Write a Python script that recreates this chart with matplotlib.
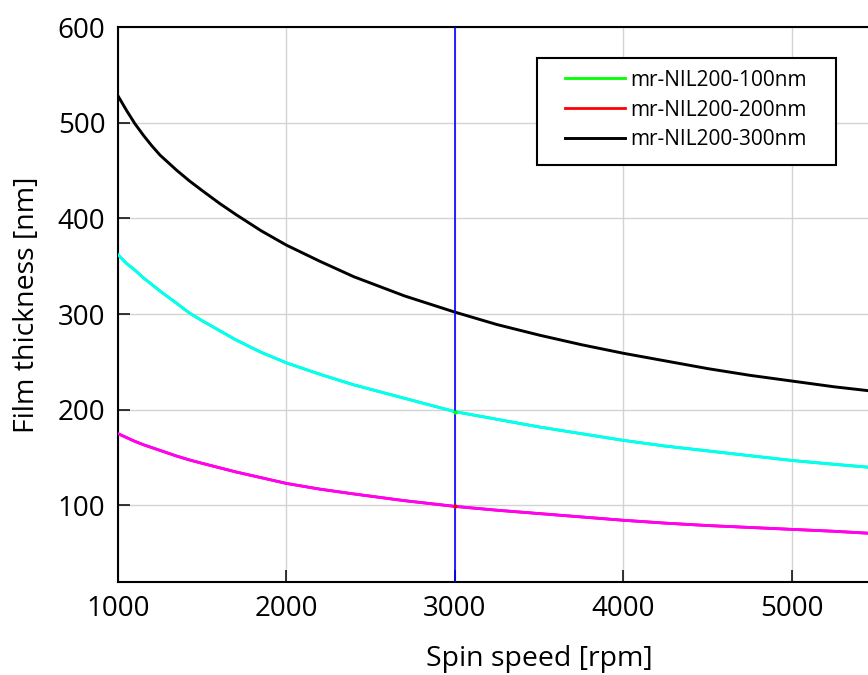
import matplotlib
matplotlib.use('Agg')
import matplotlib.pyplot as plt
from matplotlib.patches import Rectangle

plt.rcParams['font.family'] = ['Open Sans', 'DejaVu Sans']

# Spin curves
speed = [1000, 1050, 1100, 1150, 1200, 1250, 1350, 1425, 1500, 1600, 1700, 1850, 2000,
         2200, 2400, 2700, 3000, 3250, 3500, 3750, 4000, 4250, 4500, 4750, 5000, 5250, 5450]
thick_300 = [528, 513, 499, 487, 476, 466, 450, 439, 429, 416, 404, 387, 372,
             355, 339, 319, 302, 289, 278, 268, 259, 251, 243, 236, 230, 224, 220]
thick_200 = [362, 353, 346, 338, 331, 324, 311, 301, 293, 283, 273, 260, 249,
             237, 226, 212, 198, 190, 182, 175, 168, 162, 157, 152, 147, 143, 140]
thick_100 = [175, 171, 167, 163.5, 160.5, 157.5, 151.5, 147.5, 144, 139.5, 135, 129, 123,
             117, 112, 105, 99, 95, 91.5, 88, 84.5, 81.5, 79, 77, 75, 73, 71]

labels = ['mr-NIL200-100nm', 'mr-NIL200-200nm', 'mr-NIL200-300nm']
x_ticks = [1000, 2000, 3000, 4000, 5000]
y_ticks = [100, 200, 300, 400, 500, 600]
marked_speed = 3000

fig = plt.figure(figsize=(8.68, 6.75), dpi=100)
ax = fig.add_axes([118 / 868, 1 - 582 / 675, 842.5 / 868, 555 / 675])

ax.grid(color='#d3d3d3', lw=1, zorder=0)

# legend lines (green/red) sit under the cyan/magenta curves
ax.plot(speed, thick_200, color='#00ff00', lw=2.0, label=labels[0], zorder=2)
ax.plot(speed, thick_100, color='red', lw=2.0, label=labels[1], zorder=2)
ax.plot(speed, thick_300, color='black', lw=2.1, label=labels[2], zorder=3)
ax.plot(speed, thick_200, color='cyan', lw=2.0, zorder=3)
ax.plot(speed, thick_100, color='magenta', lw=2.0, zorder=3)

ax.axvline(marked_speed, color='blue', lw=1.2, zorder=4)
ax.plot([marked_speed], [thick_200[speed.index(marked_speed)]], 'o', color='#00ff00', ms=2, zorder=5)
ax.plot([marked_speed], [thick_100[speed.index(marked_speed)]], 'o', color='red', ms=2, zorder=5)

ax.set_xlim(1000, 6000)
ax.set_ylim(20, 600)
ax.set_xticks(x_ticks)
ax.set_yticks(y_ticks)
ax.tick_params(direction='in', length=8.5, width=1.1, labelsize=20, pad=9,
               top=False, right=False)
for s in ax.spines.values():
    s.set_linewidth(1.5)

ax.set_xlabel('Spin speed [rpm]', fontsize=20.5, labelpad=16)
ax.set_ylabel('Film thickness [nm]', fontsize=20.5, labelpad=12)

# legend box drawn separately so padding can differ left/top
fig.patches.append(Rectangle((537 / 868, 1 - 165 / 675), 299 / 868, 107 / 675,
                             transform=fig.transFigure, facecolor='white',
                             edgecolor='black', lw=1.5, zorder=5))
handles, names = ax.get_legend_handles_labels()
leg = fig.legend(handles, names, loc='center left',
                 bbox_to_anchor=(565 / 868, 1 - 110 / 675),
                 borderaxespad=0, frameon=False,
                 fontsize=15, handlelength=2.9, handletextpad=0.25,
                 labelspacing=0.42, borderpad=0)
leg.set_zorder(6)

fig.savefig('out.png', dpi=100)
